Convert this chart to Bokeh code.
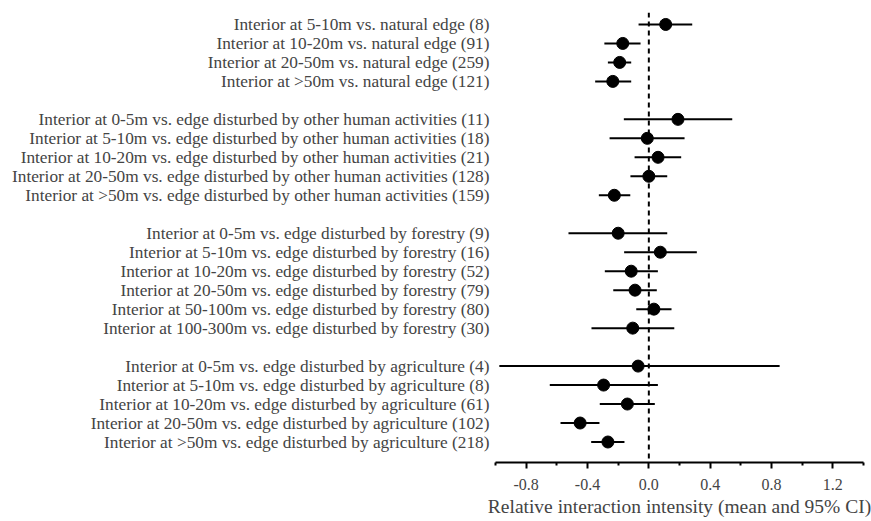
from bokeh.plotting import figure
from bokeh.models import Range1d, FixedTicker, Span, NumeralTickFormatter
from bokeh.embed import file_html
from bokeh.resources import INLINE

labels = [
    "Interior at 5-10m vs. natural edge (8)",
    "Interior at 10-20m vs. natural edge (91)",
    "Interior at 20-50m vs. natural edge (259)",
    "Interior at >50m vs. natural edge (121)",
    "Interior at 0-5m vs. edge disturbed by other human activities (11)",
    "Interior at 5-10m vs. edge disturbed by other human activities (18)",
    "Interior at 10-20m vs. edge disturbed by other human activities (21)",
    "Interior at 20-50m vs. edge disturbed by other human activities (128)",
    "Interior at >50m vs. edge disturbed by other human activities (159)",
    "Interior at 0-5m vs. edge disturbed by forestry (9)",
    "Interior at 5-10m vs. edge disturbed by forestry (16)",
    "Interior at 10-20m vs. edge disturbed by forestry (52)",
    "Interior at 20-50m vs. edge disturbed by forestry (79)",
    "Interior at 50-100m vs. edge disturbed by forestry (80)",
    "Interior at 100-300m vs. edge disturbed by forestry (30)",
    "Interior at 0-5m vs. edge disturbed by agriculture (4)",
    "Interior at 5-10m vs. edge disturbed by agriculture (8)",
    "Interior at 10-20m vs. edge disturbed by agriculture (61)",
    "Interior at 20-50m vs. edge disturbed by agriculture (102)",
    "Interior at >50m vs. edge disturbed by agriculture (218)",
]
# row index (top = 0), with one blank row between groups
rows = [0, 1, 2, 3,
        5, 6, 7, 8, 9,
        11, 12, 13, 14, 15, 16,
        18, 19, 20, 21, 22]
means = [0.11, -0.17, -0.19, -0.235,
         0.19, -0.01, 0.06, 0.0, -0.225,
         -0.20, 0.075, -0.115, -0.09, 0.033, -0.105,
         -0.07, -0.295, -0.14, -0.448, -0.267]
lower = [-0.067, -0.29, -0.267, -0.35,
         -0.163, -0.256, -0.093, -0.12, -0.326,
         -0.524, -0.161, -0.287, -0.232, -0.082, -0.374,
         -0.975, -0.646, -0.32, -0.576, -0.376]
upper = [0.283, -0.054, -0.115, -0.115,
         0.544, 0.233, 0.211, 0.12, -0.121,
         0.12, 0.313, 0.059, 0.052, 0.148, 0.166,
         0.853, 0.059, 0.039, -0.322, -0.159]

major_ticks = [-0.8, -0.4, 0.0, 0.4, 0.8, 1.2]
minor_ticks = [-1.0, -0.6, -0.2, 0.2, 0.6, 1.0, 1.4]
x_title = "Relative interaction intensity (mean and 95% CI)"

p = figure(width=871, height=521, output_backend="svg", toolbar_location=None,
           x_range=Range1d(-1.0, 1.4), y_range=Range1d(23.08, -0.63),
           min_border_left=495, min_border_right=8, min_border_top=12,
           min_border_bottom=59)
p.outline_line_color = None
p.xgrid.visible = False
p.ygrid.visible = False

p.add_layout(Span(location=0, dimension="height", line_color="black",
                  line_width=2, line_dash="5 4"))

p.segment(x0=lower, y0=rows, x1=upper, y1=rows, line_color="black", line_width=2)
p.scatter(x=means, y=rows, size=12, fill_color="black", line_color="black")

font = "Liberation Serif"
xa = p.xaxis[0]
xa.ticker = FixedTicker(ticks=major_ticks, minor_ticks=minor_ticks)
xa.formatter = NumeralTickFormatter(format="0.0")
xa.axis_line_width = 2
xa.major_tick_line_width = 2
xa.minor_tick_line_width = 2
xa.major_tick_in = 0
xa.major_tick_out = 6
xa.minor_tick_in = 0
xa.minor_tick_out = 3
xa.major_label_text_font = font
xa.major_label_text_font_size = "16px"
xa.major_label_standoff = 10
xa.axis_label = x_title
xa.axis_label_text_font = font
xa.axis_label_text_font_size = "19.5px"
xa.axis_label_text_font_style = "normal"
xa.axis_label_standoff = 3

ya = p.yaxis[0]
ya.ticker = FixedTicker(ticks=rows, minor_ticks=[])
ya.major_label_overrides = {r: lab for r, lab in zip(rows, labels)}
ya.axis_line_color = None
ya.major_tick_line_color = None
ya.minor_tick_line_color = None
ya.major_label_text_font = font
ya.major_label_text_font_size = "17.3px"
ya.major_label_standoff = 0

open("out.html", "w").write(file_html(p, INLINE))
